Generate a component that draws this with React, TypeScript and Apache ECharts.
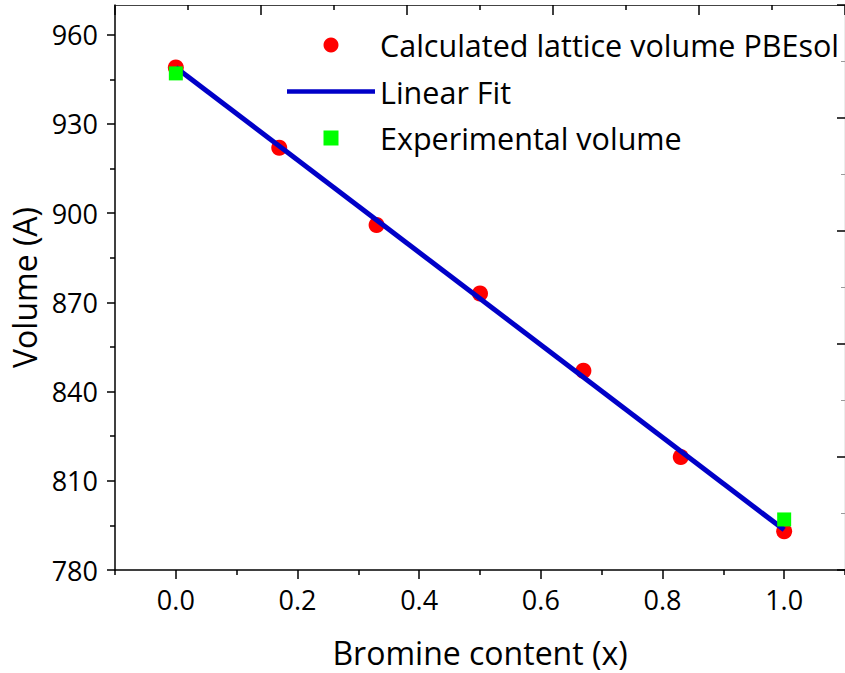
import React, { useEffect, useRef } from "react";
import * as echarts from "echarts";

const calcX = [0, 0.17, 0.33, 0.5, 0.67, 0.83, 1.0];
const calcVolume = [949, 922, 896, 873, 847, 818, 793];
const expX = [0, 1.0];
const expVolume = [947, 797];
const fitX = [0, 1.0];
const fitVolume = [949, 793.5];
const xTickValues = [0, 0.2, 0.4, 0.6, 0.8, 1.0];
const xMinorTickValues = [-0.1, 0.1, 0.3, 0.5, 0.7, 0.9, 1.1];
const yTickValues = [780, 810, 840, 870, 900, 930, 960];
const yMinorTickValues = [795, 825, 855, 885, 915, 945];

const FONT = "Open Sans";

export default function App() {
  const ref = useRef<HTMLDivElement>(null);
  useEffect(() => {
    document.body.style.margin = "0";
    const chart = echarts.init(ref.current!, null, { renderer: "svg" });
    const black = "#000";
    chart.setOption({
      animation: false,
      backgroundColor: "#fff",
      grid: { left: 115, top: 5, width: 736, height: 565.5, containLabel: false },
      legend: {
        orient: "vertical",
        left: 287,
        top: 27,
        padding: 0,
        itemWidth: 88,
        itemHeight: 15,
        itemGap: 10.5,
        symbolKeepAspect: true,
        textStyle: { fontFamily: FONT, fontSize: 30.5, color: black, lineHeight: 36 },
        data: [
          { name: "Calculated lattice volume PBEsol", icon: "circle" },
          { name: "Linear Fit", icon: "path://M0,0h88v4.5h-88z" },
          { name: "Experimental volume", icon: "path://M0,0h10v10h-10z" },
        ],
      },
      xAxis: [
        {
          type: "value",
          min: -0.1,
          max: 1.1,
          position: "bottom",
          name: "Bromine content (x)",
          nameLocation: "middle",
          nameGap: 66,
          nameTextStyle: { fontFamily: FONT, fontSize: 32, color: black },
          axisLine: { onZero: false, lineStyle: { color: black, width: 1.5 } },
          axisTick: { customValues: xTickValues, length: 9, lineStyle: { color: black, width: 1.5 } },
          axisLabel: {
            customValues: xTickValues,
            formatter: (v: number) => v.toFixed(1),
            fontFamily: FONT,
            fontSize: 27,
            color: black,
            margin: 16,
          },
          splitLine: { show: false },
        },
        {
          type: "value",
          min: -0.1,
          max: 1.1,
          position: "bottom",
          axisLine: { show: false, onZero: false },
          axisTick: { customValues: xMinorTickValues, length: 5, lineStyle: { color: black, width: 1.5 } },
          axisLabel: { show: false },
          splitLine: { show: false },
        },
        {
          type: "value",
          min: 0,
          max: 5,
          interval: 1,
          position: "top",
          axisLine: { onZero: false, lineStyle: { color: "#444", width: 1.2 } },
          axisTick: { inside: true, length: 10, lineStyle: { color: black, width: 1.5 } },
          minorTick: { show: true, splitNumber: 2, length: 5, lineStyle: { color: black, width: 1.5 } },
          axisLabel: { show: false },
          splitLine: { show: false },
        },
      ],
      yAxis: [
        {
          type: "value",
          min: 780,
          max: 970,
          position: "left",
          name: "Volume (A)",
          nameLocation: "middle",
          nameRotate: 90,
          nameGap: 70,
          nameTextStyle: { fontFamily: FONT, fontSize: 32, color: black },
          axisLine: { onZero: false, lineStyle: { color: black, width: 1.5 } },
          axisTick: { customValues: yTickValues, length: 8, lineStyle: { color: black, width: 1.5 } },
          axisLabel: {
            customValues: yTickValues,
            fontFamily: FONT,
            fontSize: 27,
            color: black,
            margin: 17,
          },
          splitLine: { show: false },
        },
        {
          type: "value",
          min: 780,
          max: 970,
          position: "left",
          axisLine: { show: false, onZero: false },
          axisTick: { customValues: yMinorTickValues, length: 5, lineStyle: { color: black, width: 1.5 } },
          axisLabel: { show: false },
          splitLine: { show: false },
        },
        {
          type: "value",
          min: 0,
          max: 5,
          interval: 1,
          position: "right",
          axisLine: { show: true, onZero: false, lineStyle: { color: "#444", width: 1.2 } },
          axisTick: { inside: true, length: 8, lineStyle: { color: black, width: 1.5 } },
          minorTick: { show: true, splitNumber: 2, length: 4, lineStyle: { color: "#999", width: 1 } },
          axisLabel: { show: false },
          splitLine: { show: false },
        },
      ],
      series: [
        {
          name: "Calculated lattice volume PBEsol",
          type: "scatter",
          xAxisIndex: 0,
          yAxisIndex: 0,
          symbol: "circle",
          symbolSize: 16,
          itemStyle: { color: "#ff0000", opacity: 1 },
          z: 2,
          data: calcX.map((x, i) => [x, calcVolume[i]]),
        },
        {
          name: "Linear Fit",
          type: "line",
          xAxisIndex: 0,
          yAxisIndex: 0,
          symbol: "none",
          showSymbol: false,
          lineStyle: { color: "#0000c8", width: 5 },
          itemStyle: { color: "#0000c8" },
          z: 3,
          data: fitX.map((x, i) => [x, fitVolume[i]]),
        },
        {
          name: "Experimental volume",
          type: "scatter",
          xAxisIndex: 0,
          yAxisIndex: 0,
          symbol: "rect",
          symbolSize: 14,
          itemStyle: { color: "#00ff00", opacity: 1 },
          z: 4,
          data: expX.map((x, i) => [x, expVolume[i]]),
        },
      ],
    });
    return () => chart.dispose();
  }, []);
  return <div ref={ref} style={{ width: 845, height: 673 }} />;
}
